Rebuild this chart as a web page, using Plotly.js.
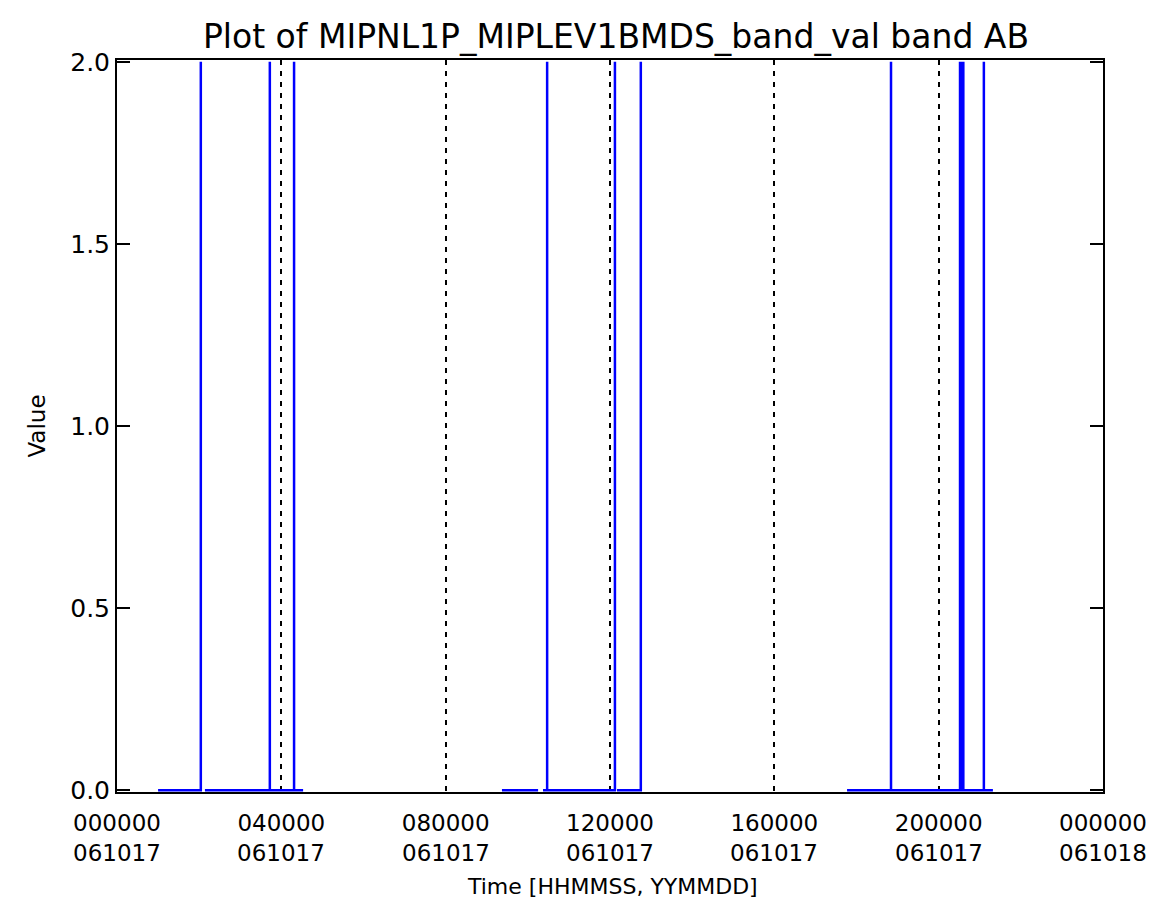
<!DOCTYPE html>
<html>
<head>
<meta charset="utf-8">
<script src="https://cdn.plot.ly/plotly-3.0.1.min.js"></script>
<style>html,body{margin:0;padding:0;background:#fff;}#chart{width:1160px;height:907px;}</style>
</head>
<body>
<div id="chart"></div>
<script>
// Time in hours since 000000 061017; null marks a data gap
const timeHours = [
  1.00, 2.04, 2.04, 2.04, null, 2.14, 3.72, 3.72, 3.72, 4.31, 4.31, 4.31, 4.53, null,
  9.37, 10.25, null, 10.37, 10.47, 10.47, 10.47, 12.12, 12.12, null, 12.17, 12.75, 12.75, null,
  17.77, 18.84, 18.84, 18.84, 20.52, 20.52, 20.52, 20.56, 20.56, 20.56, 20.60, 20.60, 20.60, 21.10, 21.10, 21.10, 21.32
];
const bandValues = [
  0, 0, 2, 0, null, 0, 0, 2, 0, 0, 2, 0, 0, null,
  0, 0, null, 0, 0, 2, 0, 0, 2, null, 0, 0, 2, null,
  0, 0, 2, 0, 0, 2, 0, 0, 2, 0, 0, 2, 0, 0, 2, 0, 0
];
const xTickVals = [0, 4, 8, 12, 16, 20, 24];
const xTickTime = ["000000", "040000", "080000", "120000", "160000", "200000", "000000"];
const xTickDate = ["061017", "061017", "061017", "061017", "061017", "061017", "061018"];
const yTickVals = [0, 0.5, 1.0, 1.5, 2.0];
const yTickText = ["0.0", "0.5", "1.0", "1.5", "2.0"];

const font = "DejaVu Sans, Arial, sans-serif";
const tickFont = {family: font, size: 25, color: "#000"};
const xTickFont = {family: font, size: 23, color: "#000"};

const annotations = xTickVals.map((v, i) => ({
  x: v, xref: "x", y: 0, yref: "paper", yanchor: "middle", xanchor: "center",
  yshift: -61, text: xTickDate[i], showarrow: false, font: xTickFont
}));
annotations.push({
  x: 583 / 1160, xref: "paper", y: -94 / 732, yref: "paper", yanchor: "middle", xanchor: "center",
  text: "Time [HHMMSS, YYMMDD]", showarrow: false, font: {family: font, size: 22, color: "#000"}
});

Plotly.newPlot("chart", [{
  x: timeHours, y: bandValues, type: "scatter", mode: "lines",
  line: {color: "#0000ff", width: 2.5}, connectgaps: false, hoverinfo: "skip"
}], {
  width: 1160, height: 907,
  paper_bgcolor: "#fff", plot_bgcolor: "#fff",
  margin: {l: 117, r: 57, t: 60, b: 115},
  showlegend: false,
  title: {text: "Plot of MIPNL1P_MIPLEV1BMDS_band_val band AB",
          font: {family: font, size: 33, color: "#000"},
          x: 616 / 1160, xref: "container", xanchor: "center", y: 1 - 36/907, yanchor: "middle", yref: "container"},
  xaxis: {
    range: [0, 24], tickvals: xTickVals, ticktext: xTickTime,
    showline: true, linecolor: "#000", linewidth: 2, mirror: true,
    ticks: "", showgrid: true, gridcolor: "#000", gridwidth: 2, griddash: "5px,6px",
    zeroline: false, tickfont: xTickFont, ticklabelstandoff: 9,
    automargin: false, layer: "below traces"
  },
  yaxis: {
    range: [-0.005, 2.005], tickvals: yTickVals, ticktext: yTickText,
    showline: true, linecolor: "#000", linewidth: 2, mirror: "ticks",
    ticks: "inside", ticklen: 13, tickwidth: 2, tickcolor: "#000",
    showgrid: false, zeroline: false, tickfont: tickFont,
    title: {text: "Value", font: {family: font, size: 23, color: "#000"}, standoff: 18},
    automargin: false, layer: "below traces"
  },
  annotations: annotations
}, {staticPlot: true});
</script>
</body>
</html>
